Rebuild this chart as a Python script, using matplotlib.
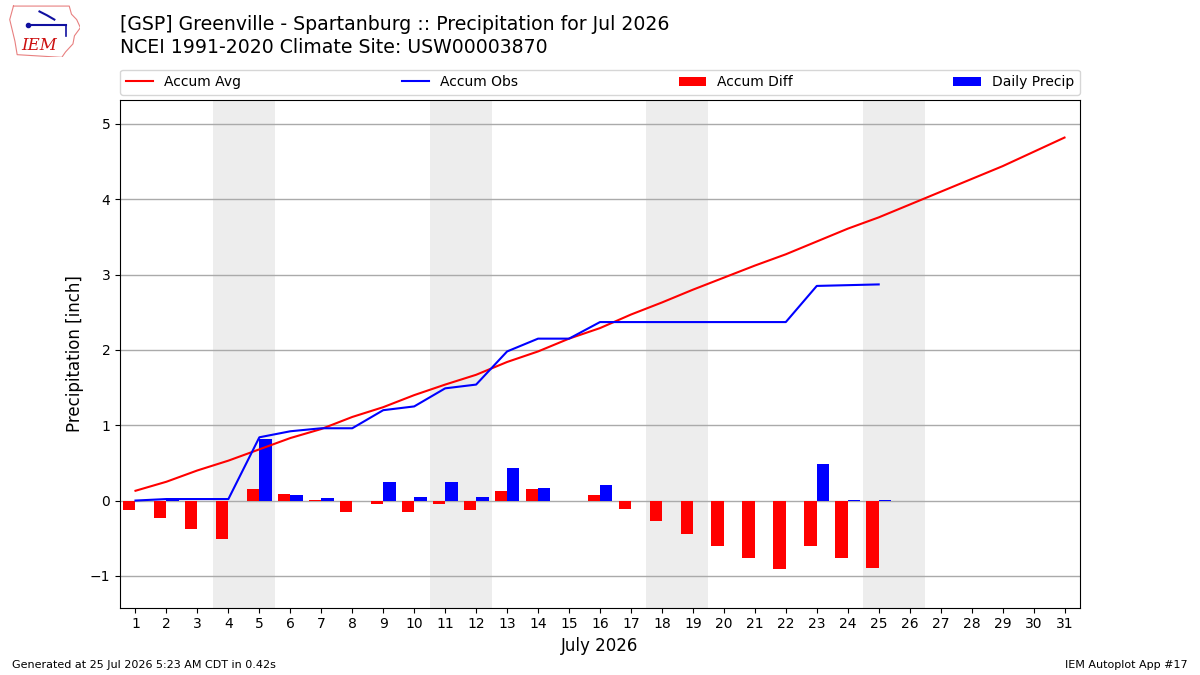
import matplotlib
matplotlib.use("Agg")
import matplotlib.pyplot as plt
import numpy as np

# data
days = list(range(1, 32))
accum_avg = [0.13, 0.25, 0.40, 0.53, 0.68, 0.83, 0.95, 1.11, 1.24, 1.40,
             1.54, 1.67, 1.84, 1.98, 2.15, 2.29, 2.47, 2.63, 2.80, 2.96,
             3.12, 3.27, 3.44, 3.61, 3.76, 3.93, 4.10, 4.27, 4.44, 4.63, 4.82]
obs_days = list(range(1, 26))
accum_obs = [0.00, 0.02, 0.02, 0.02, 0.84, 0.92, 0.96, 0.96, 1.20, 1.25,
             1.49, 1.54, 1.98, 2.15, 2.15, 2.37, 2.37, 2.37, 2.37, 2.37,
             2.37, 2.37, 2.85, 2.86, 2.87]
daily_precip = [0.00, 0.02, 0.00, 0.00, 0.82, 0.08, 0.04, 0.00, 0.24, 0.05,
                0.24, 0.05, 0.43, 0.17, 0.00, 0.21, 0.00, 0.00, 0.00, 0.00,
                0.00, 0.00, 0.48, 0.01, 0.01]
accum_diff = [-0.13, -0.23, -0.38, -0.51, 0.16, 0.09, 0.01, -0.15, -0.04, -0.15,
              -0.05, -0.13, 0.13, 0.16, 0.00, 0.07, -0.11, -0.27, -0.44, -0.60,
              -0.76, -0.91, -0.60, -0.76, -0.90]
weekends = [4, 11, 18, 25]

fig = plt.figure(figsize=(12, 6.75), dpi=100)
ax = fig.add_axes([0.1, 0.1, 0.8, 0.752])

for d in weekends:
    ax.axvspan(d - 0.5, d + 1.5, color="#ededed", zorder=0, lw=0)

ax.plot(days, accum_avg, color="r", lw=1.5, label="Accum Avg", zorder=3)
ax.plot(obs_days, accum_obs, color="b", lw=1.5, label="Accum Obs", zorder=3)
ax.bar(obs_days, accum_diff, width=-0.4, align="edge", color="r",
       label="Accum Diff", zorder=2)
ax.bar(obs_days, daily_precip, width=0.4, align="edge", color="b",
       label="Daily Precip", zorder=2)

ax.set_xlim(0.5, 31.5)
ax.set_ylim(-1.42, 5.32)
ax.set_xticks(days)
ax.set_xticklabels([str(d) for d in days])
ax.tick_params(labelsize=10)
ax.grid(axis="y", color="#aaaaaa", lw=1)
ax.set_axisbelow(True)
ax.set_xlabel("July 2026", fontsize=12)
ax.set_ylabel("Precipitation [inch]", fontsize=12)

ax.legend(loc="lower left", bbox_to_anchor=(0, 1.01, 1, 0.05), ncol=4,
          mode="expand", borderaxespad=0, fontsize=10)

fig.text(0.1, 0.964, "[GSP] Greenville - Spartanburg :: Precipitation for Jul 2026",
         fontsize=13.6, va="center")
fig.text(0.1, 0.930, "NCEI 1991-2020 Climate Site: USW00003870",
         fontsize=13.6, va="center")
fig.text(0.01, 0.01, "Generated at 25 Jul 2026 5:23 AM CDT in 0.42s", fontsize=8)
fig.text(0.99, 0.01, "IEM Autoplot App #17", fontsize=8, ha="right")

# rough IEM logo
logo = fig.add_axes([0.005, 0.915, 0.062, 0.08])
logo.axis("off")
logo.set_xlim(0, 1)
logo.set_ylim(0, 1)
outline_x = [0.1, 0.85, 0.88, 0.95, 1.0, 0.92, 0.9, 0.8, 0.75, 0.15, 0.12, 0.05, 0.1]
outline_y = [0.95, 0.95, 0.8, 0.7, 0.55, 0.4, 0.25, 0.1, 0.0, 0.05, 0.3, 0.7, 0.95]
logo.plot(outline_x, outline_y, color="#e88080", lw=0.8)
logo.plot([0.3, 0.8], [0.6, 0.6], color="#1010a0", lw=1.5)
logo.plot([0.3], [0.6], "o", color="#1010a0", ms=3)
logo.plot([0.45, 0.55, 0.65], [0.85, 0.78, 0.7], color="#1010a0", lw=1.5)
logo.plot([0.8, 0.8], [0.6, 0.4], color="#1010a0", lw=1.2)
logo.text(0.45, 0.22, "IEM", color="#cc1010", fontsize=12, fontstyle="italic",
          family="serif", ha="center", va="center")

fig.savefig("out.png", dpi=100)
